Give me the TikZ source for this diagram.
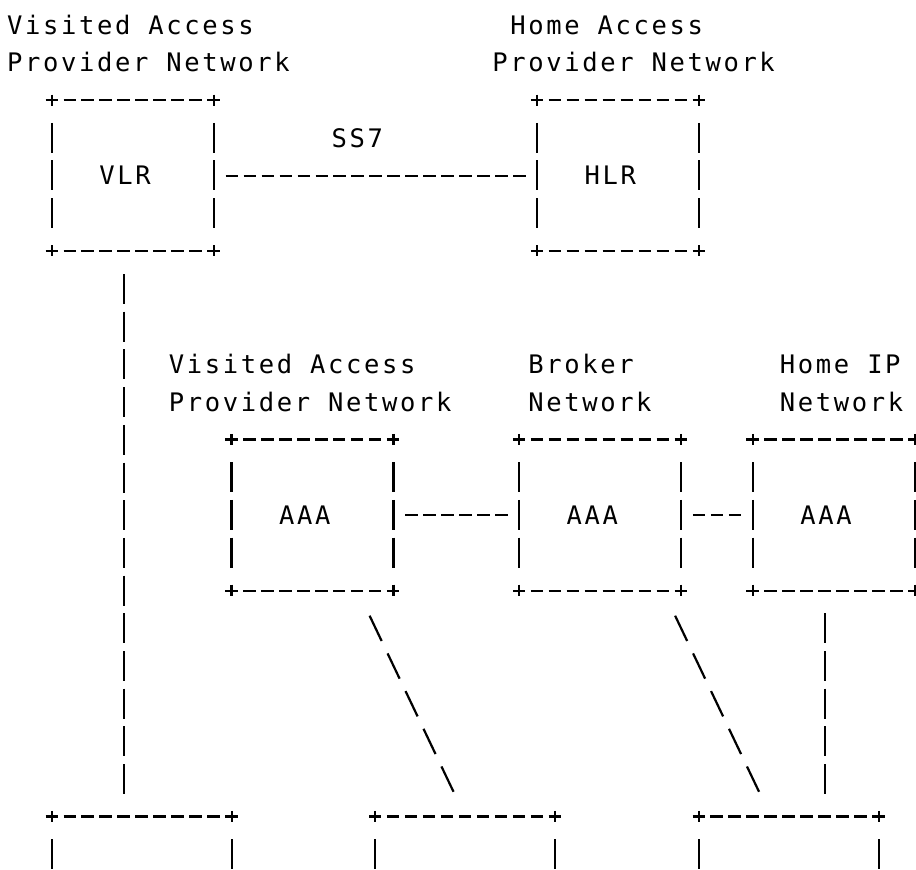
\documentclass[tikz,border=0pt]{standalone}
\usepackage{fontspec}
\usepackage{tikz}
\newfontfamily\fuentemono[LetterSpace=10.3]{DejaVu Sans Mono}
\newcommand{\letra}{\fuentemono\fontsize{25.5pt}{25.5pt}\selectfont}
\newcommand{\columna}{17.97pt}
\newcommand{\fila}{37.7pt}
\tikzstyle{caja} = [draw=none, rectangle, inner sep=0pt, minimum width=9*\columna, minimum height=4*\fila, font=\letra, text height=18.5pt, text depth=0pt, execute at end node={\hphantom{x}}]
\tikzstyle{etiqueta} = [inner sep=0pt, anchor=west, font=\letra, text height=18.5pt, text depth=0pt]
\tikzstyle{bordeh} = [line width=2.2pt, dash pattern=on 12.4pt off 5.57pt, shorten <=-6.2pt, shorten >=-6.2pt]
\tikzstyle{bordev} = [line width=2.2pt, dash pattern=on 11pt off 17.2pt on 30pt off 7.7pt on 30pt off 7.7pt on 30pt off 17.2pt on 11pt off 60pt, shorten <=-5.5pt, shorten >=-5.5pt]
\tikzstyle{enlaceh} = [line width=2.2pt, dash pattern=on 12.4pt off 5.57pt, dash phase=12.4pt, shorten <=6.2pt, shorten >=6.2pt]
\tikzstyle{enlacev} = [line width=2.2pt, dash pattern=on 30pt off 7.7pt, dash phase=30pt, shorten <=15pt, shorten >=15pt]
\tikzstyle{enlaced} = [line width=2.2pt, dash pattern=on 28pt off 13.76pt, dash phase=28pt, shorten <=14pt, shorten >=14pt]

\begin{document}
\begin{tikzpicture}[x=\columna, y=-\fila]
	\useasboundingbox[fill=white] (-0.890,-0.660) rectangle (50.08,22.39);
	\clip (-0.890,-0.660) rectangle (50.08,22.39);
	% redes
	\node[etiqueta] (vapn1) at (-0.5,0) {Visited Access};
	\node[etiqueta] (vapn2) at (-0.5,1) {Provider Network};
	\node[etiqueta] (hapn1) at (27.5,0) {Home Access};
	\node[etiqueta] (hapn2) at (26.5,1) {Provider Network};
	\node[etiqueta] (vapn3) at (8.5,9) {Visited Access};
	\node[etiqueta] (vapn4) at (8.5,10) {Provider Network};
	\node[etiqueta] (brn1) at (28.5,9) {Broker};
	\node[etiqueta] (brn2) at (28.5,10) {Network};
	\node[etiqueta] (hipn1) at (42.5,9) {Home IP};
	\node[etiqueta] (hipn2) at (42.5,10) {Network};
	% cajas
	\node[caja] (vlr) at (6.5,4) {VLR};
	\node[caja] (hlr) at (33.5,4) {HLR};
	\node[caja] (aaav) at (16.5,13) {AAA};
	\node[caja] (aaab) at (32.5,13) {AAA};
	\node[caja] (aaah) at (45.5,13) {AAA};
	\node[caja, minimum width=10*\columna] (termv) at (7,23) {};
	\node[caja, minimum width=10*\columna] (termb) at (25,23) {};
	\node[caja, minimum width=10*\columna] (termh) at (43,23) {};
	\foreach \n in {vlr,hlr,aaav,aaab,aaah,termv,termb,termh}{
		\draw[bordeh] (\n.north west) -- (\n.north east);
		\draw[bordeh] (\n.south west) -- (\n.south east);
		\draw[bordev] (\n.north west) -- (\n.south west);
		\draw[bordev] (\n.north east) -- (\n.south east);
	}
	% enlaces
	\draw[enlaceh] (vlr) -- node[etiqueta, anchor=center, pos=0.444, yshift=\fila] (ss7) {SS7} (hlr);
	\draw[enlaceh] (aaav) -- (aaab);
	\draw[enlaceh] (aaab) -- (aaah);
	\draw[enlacev] ([xshift=-0.5*\columna]vlr.south) -- ([xshift=-0.5*\columna]vlr.south |- termv.north);
	\draw[enlaced] ([xshift=-2*\columna]aaav.south east) -- (termb.north);
	\draw[enlaced] ([xshift=-\columna]aaab.south east) -- ([xshift=-\columna]termh.north);
	\draw[enlacev] ([xshift=-0.5*\columna]aaah.south) -- ([xshift=-0.5*\columna]aaah.south |- termh.north);
\end{tikzpicture}
\end{document}
